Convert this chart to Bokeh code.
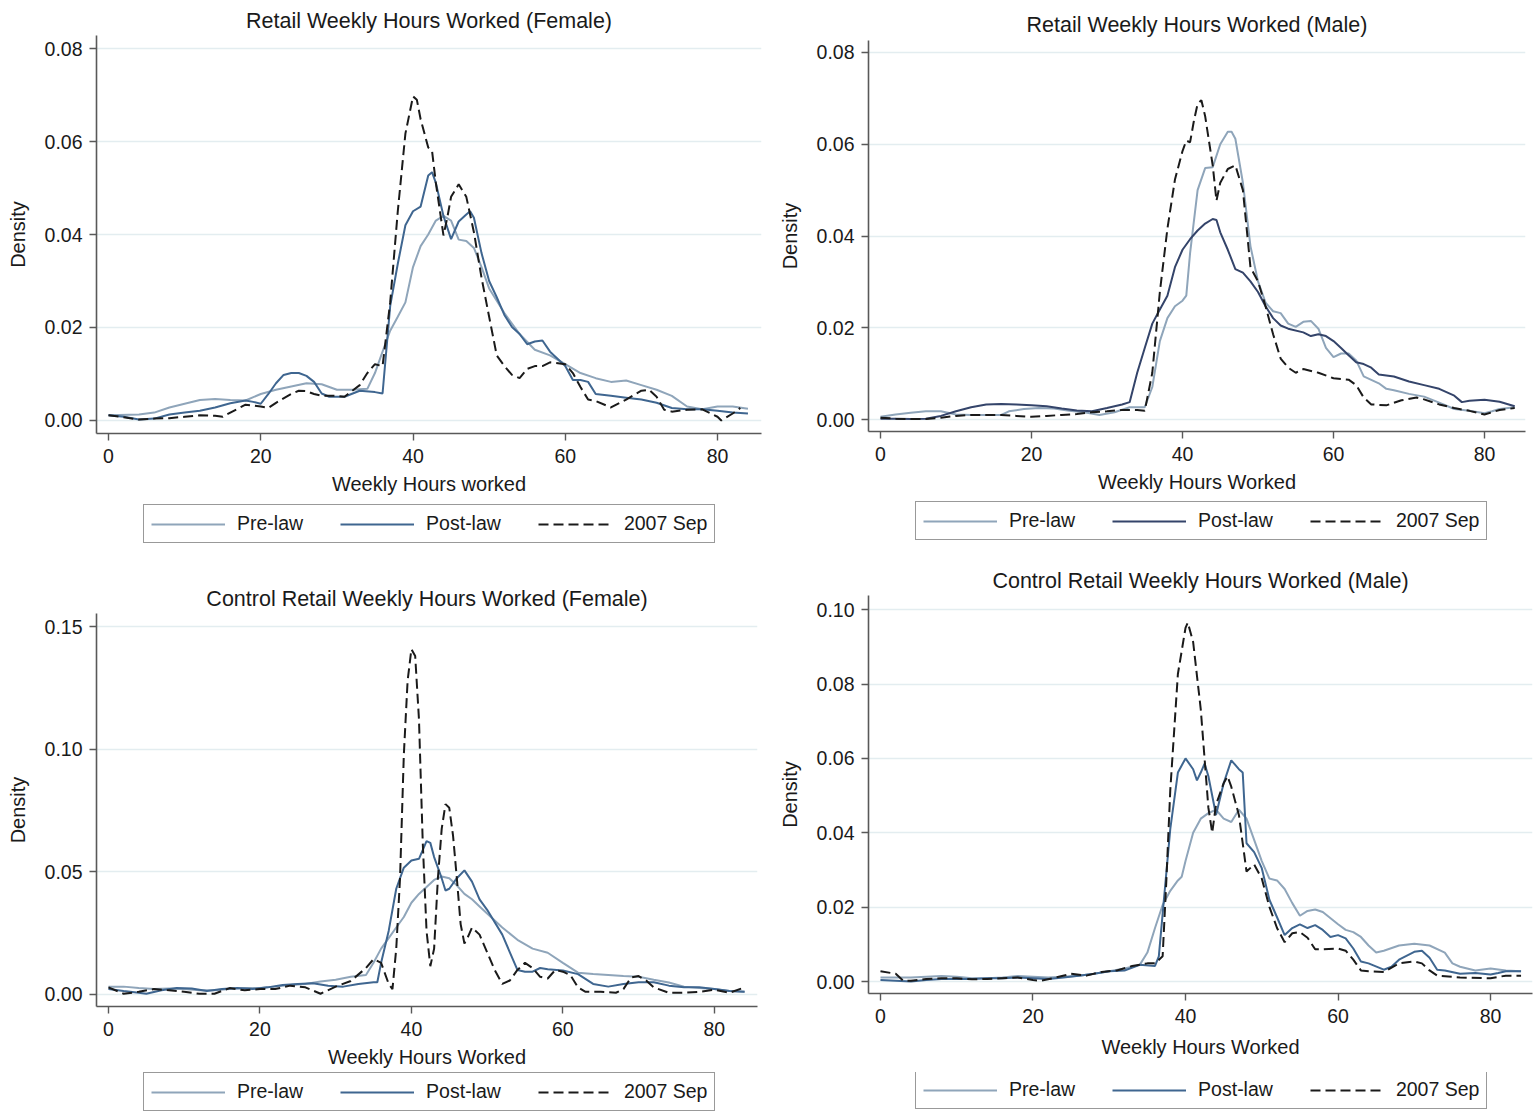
from bokeh.plotting import figure
from bokeh.models import Range1d, FixedTicker, PrintfTickFormatter, Legend, LegendItem
from bokeh.layouts import column, row
from bokeh.embed import file_html
from bokeh.resources import INLINE

# ---------------- data ----------------
x_ticks = [0, 20, 40, 60, 80]
legend_labels = ["Pre-law", "Post-law", "2007 Sep"]

# Panel 1: Retail (Female)
f_pre_h = [0, 4, 6, 8, 10, 12, 14, 16, 18, 20, 22, 24, 26, 28, 30, 32, 34, 35, 36, 37, 38, 39, 40, 41, 42, 43, 44, 45, 46, 47, 48, 49, 50, 52, 54, 56, 58, 60, 62, 64, 66, 68, 70, 72, 74, 76, 78, 80, 82, 84]
f_pre_d = [0.0011, 0.0013, 0.0017, 0.0028, 0.0036, 0.0044, 0.0046, 0.0044, 0.0043, 0.0057, 0.0066, 0.0073, 0.0080, 0.0078, 0.0066, 0.0066, 0.0068, 0.0102, 0.0148, 0.0193, 0.0223, 0.0254, 0.0330, 0.0375, 0.0400, 0.0430, 0.0440, 0.0430, 0.0389, 0.0386, 0.0371, 0.0330, 0.0284, 0.0231, 0.0186, 0.0152, 0.0140, 0.0121, 0.0102, 0.0091, 0.0083, 0.0086, 0.0076, 0.0066, 0.0053, 0.0030, 0.0024, 0.0030, 0.0030, 0.0025]
f_post_h = [0, 2, 4, 6, 8, 10, 12, 14, 16, 18, 19, 20, 21, 22, 23, 24, 25, 26, 27, 28, 29, 31, 33, 35, 36, 37, 38, 39, 40, 41, 42, 42.5, 43, 44, 45, 46, 47, 47.5, 48, 49, 50, 51, 52, 53, 54, 55, 56, 57, 58, 60, 61, 62, 63, 64, 66, 68, 70, 72, 74, 76, 78, 80, 82, 84]
f_post_d = [0.0011, 0.0008, 0.0002, 0.0004, 0.0013, 0.0017, 0.0021, 0.0028, 0.0037, 0.0043, 0.0040, 0.0036, 0.0057, 0.0080, 0.0098, 0.0102, 0.0102, 0.0096, 0.0083, 0.0058, 0.0051, 0.0051, 0.0064, 0.0061, 0.0058, 0.0246, 0.0337, 0.0420, 0.0450, 0.0460, 0.0527, 0.0534, 0.0511, 0.0440, 0.0390, 0.0428, 0.0443, 0.0450, 0.0436, 0.0360, 0.0300, 0.0265, 0.0227, 0.0201, 0.0186, 0.0164, 0.0170, 0.0172, 0.0148, 0.0117, 0.0087, 0.0087, 0.0083, 0.0057, 0.0053, 0.0049, 0.0045, 0.0038, 0.0027, 0.0024, 0.0024, 0.0021, 0.0017, 0.0015]
f_sep_h = [0, 2, 4, 6, 8, 10, 12, 14, 15, 16, 18, 20, 21, 22, 24, 25, 26, 27, 28, 30, 31, 33, 34, 35, 36, 37, 38, 39, 40, 40.5, 41, 42, 42.5, 43, 44, 44.5, 45, 46, 47, 48, 49, 50, 51, 52, 53, 54, 55, 56, 57, 58, 60, 61, 62, 63, 64, 66, 68, 70, 71, 72, 73, 74, 76, 78, 80, 80.5, 82, 83]
f_sep_d = [0.0011, 0.0007, 0.0002, 0.0004, 0.0005, 0.0008, 0.0011, 0.0010, 0.0008, 0.0017, 0.0034, 0.0030, 0.0027, 0.0038, 0.0057, 0.0064, 0.0063, 0.0057, 0.0053, 0.0053, 0.0051, 0.0076, 0.0102, 0.0121, 0.0117, 0.0254, 0.0450, 0.0617, 0.0697, 0.0690, 0.0648, 0.0587, 0.0580, 0.0511, 0.0398, 0.0436, 0.0481, 0.0508, 0.0481, 0.0405, 0.0307, 0.0223, 0.0140, 0.0117, 0.0098, 0.0091, 0.0111, 0.0117, 0.0117, 0.0125, 0.0121, 0.0102, 0.0072, 0.0045, 0.0042, 0.0028, 0.0045, 0.0064, 0.0066, 0.0051, 0.0023, 0.0019, 0.0023, 0.0024, 0.0008, 0.0000, 0.0015, 0.0027]

# Panel 2: Retail (Male)
m_pre_h = [0, 2, 4, 6, 8, 10, 12, 14, 16, 17, 19, 21, 23, 25, 27, 29, 31, 33, 35, 36, 37, 38, 39, 40, 40.5, 41, 42, 43, 44, 45, 46, 46.5, 47, 48, 49, 50, 51, 52, 53, 54, 55, 56, 57, 58, 59, 60, 61, 62, 63, 64, 66, 67, 68, 70, 72, 74, 76, 78, 80, 81, 82, 84]
m_pre_d = [0.0006, 0.0011, 0.0015, 0.0018, 0.0018, 0.0011, 0.0010, 0.0010, 0.0010, 0.0018, 0.0023, 0.0025, 0.0024, 0.0019, 0.0016, 0.0010, 0.0016, 0.0027, 0.0027, 0.0071, 0.0171, 0.0221, 0.0247, 0.0259, 0.0270, 0.0362, 0.0500, 0.0548, 0.0550, 0.0600, 0.0627, 0.0627, 0.0612, 0.0516, 0.0378, 0.0301, 0.0255, 0.0236, 0.0232, 0.0209, 0.0202, 0.0213, 0.0215, 0.0198, 0.0156, 0.0136, 0.0144, 0.0144, 0.0129, 0.0094, 0.0079, 0.0067, 0.0064, 0.0056, 0.0050, 0.0037, 0.0023, 0.0019, 0.0014, 0.0018, 0.0023, 0.0027]
m_post_h = [0, 2, 4, 6, 8, 10, 12, 14, 16, 18, 20, 22, 24, 26, 28, 30, 32, 33, 34, 35, 36, 37, 38, 39, 40, 41, 42, 43, 44, 44.5, 45, 46, 47, 48, 49, 50, 51, 52, 53, 54, 56, 57, 58, 59, 60, 61, 62, 63, 64, 65, 66, 68, 70, 72, 74, 76, 77, 78, 80, 82, 84]
m_post_d = [0.0002, 0.0002, 0.0001, 0.0002, 0.0008, 0.0018, 0.0027, 0.0033, 0.0034, 0.0033, 0.0031, 0.0029, 0.0024, 0.0020, 0.0018, 0.0025, 0.0033, 0.0038, 0.0102, 0.0156, 0.0209, 0.0240, 0.0270, 0.0332, 0.0370, 0.0393, 0.0412, 0.0427, 0.0437, 0.0435, 0.0408, 0.0370, 0.0328, 0.0320, 0.0301, 0.0278, 0.0247, 0.0221, 0.0205, 0.0198, 0.0190, 0.0182, 0.0186, 0.0182, 0.0171, 0.0156, 0.0140, 0.0125, 0.0121, 0.0113, 0.0098, 0.0094, 0.0083, 0.0075, 0.0067, 0.0052, 0.0038, 0.0041, 0.0043, 0.0039, 0.0029]
m_sep_h = [0, 2, 4, 6, 8, 10, 12, 14, 16, 18, 20, 22, 24, 26, 28, 30, 32, 34, 35, 36, 37, 38, 39, 40, 40.5, 41, 41.5, 42, 42.5, 43, 44, 44.5, 45, 46, 47, 48, 49, 50, 51, 52, 53, 54, 55, 56, 58, 60, 62, 63, 64, 65, 67, 69, 71, 72, 74, 76, 78, 80, 82, 84]
m_sep_d = [0.0004, 0.0002, 0.0001, 0.0001, 0.0004, 0.0008, 0.0010, 0.0010, 0.0010, 0.0008, 0.0006, 0.0008, 0.0010, 0.0012, 0.0016, 0.0018, 0.0021, 0.0021, 0.0019, 0.0102, 0.0278, 0.0416, 0.0523, 0.0585, 0.0608, 0.0604, 0.0650, 0.0688, 0.0696, 0.0661, 0.0554, 0.0477, 0.0516, 0.0546, 0.0554, 0.0500, 0.0332, 0.0301, 0.0247, 0.0186, 0.0133, 0.0113, 0.0102, 0.0110, 0.0102, 0.0090, 0.0087, 0.0075, 0.0048, 0.0033, 0.0031, 0.0042, 0.0048, 0.0044, 0.0033, 0.0025, 0.0019, 0.0011, 0.0021, 0.0025]

# Panel 3: Control Retail (Female)
cf_pre_h = [0, 2, 4, 6, 8, 10, 12, 14, 16, 18, 20, 22, 24, 26, 28, 30, 32, 34, 35, 36, 37, 38, 39, 40, 41, 42, 43, 44, 45, 46, 47, 48, 49, 50, 52, 54, 56, 58, 60, 62, 64, 66, 68, 70, 72, 74, 76, 78, 80, 82, 84]
cf_pre_d = [0.0032, 0.0032, 0.0026, 0.0022, 0.0024, 0.0022, 0.0017, 0.0017, 0.0022, 0.0026, 0.0026, 0.0032, 0.0039, 0.0043, 0.0053, 0.0060, 0.0072, 0.0079, 0.0129, 0.0187, 0.0230, 0.0273, 0.0316, 0.0374, 0.0410, 0.0438, 0.0467, 0.0481, 0.0474, 0.0445, 0.0410, 0.0388, 0.0359, 0.0330, 0.0273, 0.0223, 0.0187, 0.0170, 0.0129, 0.0089, 0.0083, 0.0079, 0.0075, 0.0072, 0.0060, 0.0049, 0.0032, 0.0026, 0.0022, 0.0014, 0.0011]
cf_post_h = [0, 2, 4, 5, 7, 9, 11, 13, 15, 17, 19, 21, 23, 25, 27, 29, 31, 33, 35, 35.5, 36, 37, 38, 39, 40, 41, 42, 42.5, 43, 44, 44.5, 45, 46, 47, 48, 49, 50, 52, 53, 54, 55, 56, 57, 58, 60, 62, 64, 66, 68, 70, 72, 74, 76, 78, 80, 82, 84]
cf_post_d = [0.0022, 0.0014, 0.0007, 0.0003, 0.0017, 0.0026, 0.0024, 0.0014, 0.0022, 0.0026, 0.0022, 0.0029, 0.0039, 0.0043, 0.0046, 0.0036, 0.0032, 0.0043, 0.0050, 0.0050, 0.0129, 0.0259, 0.0431, 0.0517, 0.0546, 0.0553, 0.0625, 0.0618, 0.0560, 0.0474, 0.0424, 0.0431, 0.0474, 0.0506, 0.0460, 0.0388, 0.0345, 0.0244, 0.0172, 0.0100, 0.0093, 0.0093, 0.0108, 0.0103, 0.0098, 0.0083, 0.0043, 0.0032, 0.0043, 0.0050, 0.0050, 0.0036, 0.0029, 0.0029, 0.0022, 0.0014, 0.0011]
cf_sep_h = [0, 2, 4, 6, 8, 10, 12, 14, 16, 18, 20, 22, 24, 26, 28, 30, 32, 34, 35, 36, 37, 37.5, 38, 38.5, 39, 39.5, 40, 40.5, 41, 41.5, 42, 42.5, 43, 43.5, 44, 44.5, 45, 45.5, 46, 46.5, 47, 47.5, 48, 49, 50, 51, 52, 53, 54, 55, 56, 57, 58, 59, 60, 61, 62, 63, 65, 67, 68, 69, 70, 71, 72, 74, 76, 78, 80, 82, 84]
cf_sep_d = [0.0029, 0.0003, 0.0011, 0.0022, 0.0017, 0.0011, 0.0003, 0.0003, 0.0026, 0.0017, 0.0022, 0.0022, 0.0036, 0.0029, 0.0003, 0.0032, 0.0055, 0.0108, 0.0144, 0.0129, 0.0043, 0.0022, 0.0187, 0.0474, 0.0977, 0.1279, 0.1408, 0.1380, 0.1121, 0.0618, 0.0259, 0.0115, 0.0187, 0.0474, 0.0675, 0.0776, 0.0761, 0.0647, 0.0474, 0.0287, 0.0208, 0.0237, 0.0273, 0.0244, 0.0172, 0.0100, 0.0043, 0.0057, 0.0100, 0.0129, 0.0108, 0.0072, 0.0065, 0.0100, 0.0093, 0.0079, 0.0029, 0.0011, 0.0011, 0.0007, 0.0022, 0.0069, 0.0075, 0.0057, 0.0029, 0.0007, 0.0007, 0.0011, 0.0019, 0.0007, 0.0029]

# Panel 4: Control Retail (Male)
cm_pre_h = [0, 4, 8, 10, 12, 14, 16, 18, 20, 22, 24, 26, 28, 30, 32, 34, 35, 36, 37, 38, 39, 39.5, 40, 41, 42, 43, 44, 45, 46, 47, 48, 49, 50, 51, 52, 53, 54, 55, 56, 57, 58, 60, 61, 62, 63, 64, 65, 66, 68, 70, 72, 74, 75, 76, 78, 80, 82, 84]
cm_pre_d = [0.0011, 0.0011, 0.0015, 0.0013, 0.0009, 0.0009, 0.0011, 0.0015, 0.0013, 0.0011, 0.0013, 0.0016, 0.0021, 0.0028, 0.0035, 0.0045, 0.0078, 0.0144, 0.0206, 0.0244, 0.0272, 0.0282, 0.0324, 0.0400, 0.0438, 0.0453, 0.0462, 0.0438, 0.0429, 0.0462, 0.0438, 0.0381, 0.0324, 0.0277, 0.0272, 0.0249, 0.0211, 0.0177, 0.0190, 0.0194, 0.0187, 0.0154, 0.0139, 0.0133, 0.0120, 0.0097, 0.0078, 0.0083, 0.0097, 0.0102, 0.0097, 0.0078, 0.0049, 0.0040, 0.0030, 0.0035, 0.0030, 0.0028]
cm_post_h = [0, 2, 4, 6, 8, 10, 12, 14, 16, 18, 20, 22, 24, 26, 28, 30, 32, 34, 36, 36.5, 37, 38, 39, 40, 41, 41.5, 42, 42.5, 43, 44, 45, 46, 47, 47.5, 48, 49, 50, 51, 52, 53, 54, 55, 56, 57, 58, 59, 60, 61, 62, 63, 64, 66, 67, 68, 70, 71, 72, 73, 74, 76, 78, 80, 81, 82, 84]
cm_post_d = [0.0004, 0.0002, 0.0000, 0.0004, 0.0007, 0.0007, 0.0007, 0.0009, 0.0009, 0.0011, 0.0009, 0.0007, 0.0011, 0.0016, 0.0021, 0.0028, 0.0030, 0.0045, 0.0042, 0.0068, 0.0182, 0.0410, 0.0562, 0.0600, 0.0571, 0.0541, 0.0562, 0.0586, 0.0552, 0.0448, 0.0533, 0.0595, 0.0571, 0.0562, 0.0372, 0.0348, 0.0305, 0.0220, 0.0173, 0.0125, 0.0144, 0.0154, 0.0144, 0.0152, 0.0139, 0.0120, 0.0125, 0.0116, 0.0089, 0.0054, 0.0049, 0.0032, 0.0040, 0.0059, 0.0080, 0.0083, 0.0064, 0.0032, 0.0030, 0.0021, 0.0023, 0.0019, 0.0023, 0.0028, 0.0028]
cm_sep_h = [0, 2, 3, 4, 6, 8, 10, 12, 14, 16, 18, 20, 21, 23, 25, 27, 29, 31, 33, 35, 36, 37, 37.5, 38, 39, 40, 40.3, 41, 42, 43, 43.5, 44, 45, 45.5, 46, 47, 48, 49, 50, 51, 52, 53, 54, 55, 56, 57, 58, 60, 61, 62, 63, 64, 66, 68, 70, 71, 72, 73, 76, 80, 82, 84]
cm_sep_d = [0.0028, 0.0021, 0.0002, 0.0002, 0.0007, 0.0009, 0.0009, 0.0006, 0.0007, 0.0009, 0.0011, 0.0004, 0.0002, 0.0011, 0.0021, 0.0016, 0.0026, 0.0030, 0.0042, 0.0049, 0.0049, 0.0068, 0.0277, 0.0514, 0.0827, 0.0951, 0.0965, 0.0913, 0.0732, 0.0467, 0.0400, 0.0476, 0.0533, 0.0552, 0.0524, 0.0448, 0.0296, 0.0315, 0.0277, 0.0201, 0.0144, 0.0106, 0.0130, 0.0133, 0.0118, 0.0087, 0.0087, 0.0089, 0.0083, 0.0059, 0.0030, 0.0028, 0.0026, 0.0049, 0.0054, 0.0049, 0.0030, 0.0016, 0.0011, 0.0009, 0.0016, 0.0016]

# ---------------- styling ----------------
FONT = "Liberation Sans"
TEXT = "#1a1a1a"
AXIS = "#595959"
GRID = "#e3edf0"
PRE_C = "#8fa5ba"
POST_F = "#3f6690"
POST_M = "#34446a"
SEP_C = "#1a1a1a"
DASH = "10 5"


def draw_series(fig, series, post_color):
    (pre_h, pre_d), (post_h, post_d), (sep_h, sep_d) = series
    r1 = fig.line(pre_h, pre_d, line_color=PRE_C, line_width=2)
    r2 = fig.line(post_h, post_d, line_color=post_color, line_width=2)
    r3 = fig.line(sep_h, sep_d, line_color=SEP_C, line_width=2, line_dash=DASH)
    return r1, r2, r3


def panel(title, xlabel, yticks, series, xr, yr, w, h, borders, post_color,
          title_standoff, xlabel_standoff=7):
    bl, br, bt, bb = borders
    p = figure(width=w, height=h, x_range=Range1d(*xr), y_range=Range1d(*yr),
               output_backend="svg", toolbar_location=None,
               min_border_left=bl, min_border_right=br,
               min_border_top=bt, min_border_bottom=bb,
               background_fill_color="white", border_fill_color="white",
               outline_line_color=None)
    p.title.text = title
    p.title.align = "center"
    p.title.text_font = FONT
    p.title.text_font_size = "21.5px"
    p.title.text_font_style = "normal"
    p.title.text_color = TEXT
    p.title.standoff = title_standoff

    for ax in (p.xaxis[0], p.yaxis[0]):
        ax.axis_line_color = AXIS
        ax.axis_line_width = 1.6
        ax.major_tick_line_color = AXIS
        ax.major_tick_line_width = 1.4
        ax.major_tick_in = 0
        ax.major_tick_out = 7
        ax.minor_tick_line_color = None
        ax.major_label_text_font = FONT
        ax.major_label_text_font_size = "19.5px"
        ax.major_label_text_color = TEXT
        ax.axis_label_text_font = FONT
        ax.axis_label_text_font_size = "20px"
        ax.axis_label_text_font_style = "normal"
        ax.axis_label_text_color = TEXT

    p.xaxis.ticker = FixedTicker(ticks=x_ticks)
    p.xaxis.axis_label = xlabel
    p.xaxis.major_label_standoff = 8
    p.xaxis.axis_label_standoff = xlabel_standoff
    p.yaxis.ticker = FixedTicker(ticks=yticks)
    p.yaxis.formatter = PrintfTickFormatter(format="%.2f")
    p.yaxis.axis_label = "Density"
    p.yaxis.major_label_standoff = 7
    p.yaxis.axis_label_standoff = 13
    p.yaxis.major_label_orientation = "horizontal"

    p.xgrid.visible = False
    p.ygrid.grid_line_color = GRID
    p.ygrid.grid_line_width = 1.6

    draw_series(p, series, post_color)
    return p


def legend_fig(w, h, series, post_color, loc):
    # legend-only strip; the series sit outside its (empty) visible range
    lf = figure(width=w, height=h, x_range=Range1d(-1000, -999),
                y_range=Range1d(-1000, -999),
                output_backend="svg", toolbar_location=None,
                x_axis_location=None, y_axis_location=None,
                min_border=0, min_border_left=0, min_border_right=0,
                min_border_top=0, min_border_bottom=0,
                outline_line_color=None, background_fill_color="white",
                border_fill_color="white")
    lf.xgrid.visible = False
    lf.ygrid.visible = False
    r1, r2, r3 = draw_series(lf, series, post_color)
    items = [LegendItem(label=legend_labels[0], renderers=[r1]),
             LegendItem(label=legend_labels[1], renderers=[r2]),
             LegendItem(label=legend_labels[2], renderers=[r3])]
    leg = Legend(items=items, orientation="horizontal", location=loc,
                 label_text_font=FONT, label_text_font_size="19.5px",
                 label_text_color=TEXT, glyph_width=74, glyph_height=20,
                 label_standoff=12, spacing=37, padding=7, margin=0,
                 border_line_color="#333333", border_line_width=1.8,
                 background_fill_color="white", background_fill_alpha=1.0)
    lf.add_layout(leg, "center")
    return lf


s1 = [(f_pre_h, f_pre_d), (f_post_h, f_post_d), (f_sep_h, f_sep_d)]
s2 = [(m_pre_h, m_pre_d), (m_post_h, m_post_d), (m_sep_h, m_sep_d)]
s3 = [(cf_pre_h, cf_pre_d), (cf_post_h, cf_post_d), (cf_sep_h, cf_sep_d)]
s4 = [(cm_pre_h, cm_pre_d), (cm_post_h, cm_post_d), (cm_sep_h, cm_sep_d)]

p1 = panel("Retail Weekly Hours Worked (Female)", "Weekly Hours worked",
           [0, 0.02, 0.04, 0.06, 0.08], s1,
           (-1.58, 85.78), (-0.0028, 0.0828), 770, 500, (96, 9, 35, 67),
           POST_F, 5)
l1 = legend_fig(770, 56, s1, POST_F, (47, 13))

p2 = panel("Retail Weekly Hours Worked (Male)", "Weekly Hours Worked",
           [0, 0.02, 0.04, 0.06, 0.08], s2,
           (-1.59, 85.43), (-0.0026, 0.0826), 764, 500, (98, 9, 40, 69),
           POST_M, 7)
l2 = legend_fig(764, 56, s2, POST_M, (47, 16))

p3 = panel("Control Retail Weekly Hours Worked (Female)", "Weekly Hours Worked",
           [0, 0.05, 0.10, 0.15], s3,
           (-1.58, 85.7), (-0.0049, 0.1553), 770, 516, (96, 13, 57, 66),
           POST_F, 6)
l3 = legend_fig(770, 40, s3, POST_F, (47, 1))

p4 = panel("Control Retail Weekly Hours Worked (Male)", "Weekly Hours Worked",
           [0, 0.02, 0.04, 0.06, 0.08, 0.10], s4,
           (-1.57, 85.5), (-0.0032, 0.1038), 764, 516, (98, 2, 39, 79),
           POST_F, 5, xlabel_standoff=10)
l4 = legend_fig(764, 40, s4, POST_F, (47, 3))

layout = column(
    row(column(p1, l1, spacing=0), column(p2, l2, spacing=0), spacing=0),
    row(column(p3, l3, spacing=0), column(p4, l4, spacing=0), spacing=0),
    spacing=0)
open("out.html", "w").write(file_html(layout, INLINE))
